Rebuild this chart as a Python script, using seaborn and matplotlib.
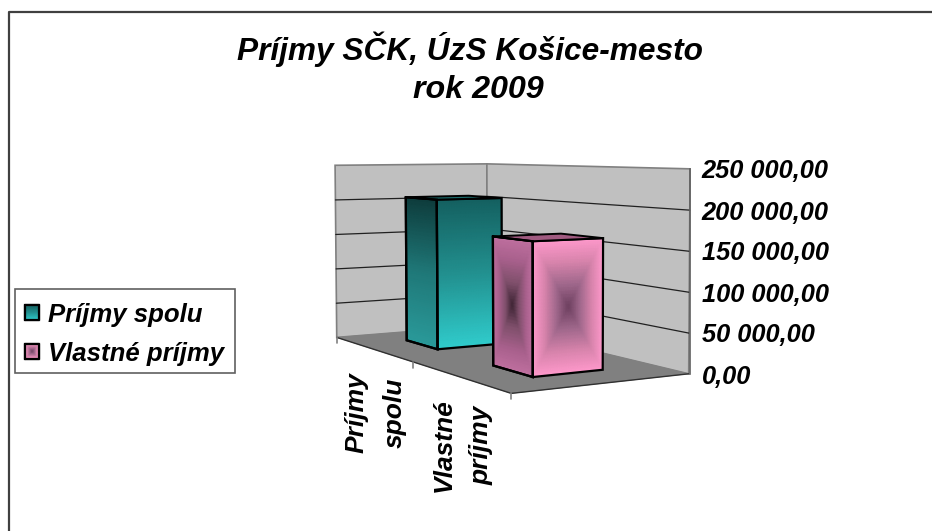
import numpy as np
import seaborn as sns
import matplotlib
matplotlib.use('Agg')
import matplotlib.pyplot as plt
from matplotlib.colors import LinearSegmentedColormap
from matplotlib.patches import Rectangle
from matplotlib.transforms import Transform

# data
categories = ['Príjmy spolu', 'Vlastné príjmy']
values = [205000, 164000]
y_ticks = [0, 50000, 100000, 150000, 200000, 250000]
y_max = 250000
title_lines = ['Príjmy SČK, ÚzS Košice-mesto', 'rok 2009']

sns.set_theme(style='white')
plt.rcParams['font.family'] = ['Liberation Sans', 'DejaVu Sans']
plt.rcParams['font.weight'] = 'bold'
plt.rcParams['font.style'] = 'italic'
plt.rcParams['text.color'] = 'black'
plt.rcParams['ytick.labelcolor'] = 'black'

W, H = 932, 531

# corners of the 3d box: (u along categories, v into depth, z up) -> pixel
box_3d = [(0, 0, 0), (1, 0, 0), (1, 1, 0), (0, 1, 0), (0, 0, 1), (0, 1, 1), (1, 1, 1)]
box_px = [(337, 338), (511, 393), (689, 374), (487, 325), (335, 165), (487, 164), (690, 169)]
rows = []
for (a, b, c), (px, py) in zip(box_3d, box_px):
    rows.append([a, b, c, 1, 0, 0, 0, 0, -px * a, -px * b, -px * c, -px])
    rows.append([0, 0, 0, 0, a, b, c, 1, -py * a, -py * b, -py * c, -py])
P = np.linalg.svd(np.array(rows, dtype=float))[2][-1].reshape(3, 4)


def project(u, v, z):
    u, v, z = np.broadcast_arrays(u, v, z)
    q = P @ np.stack([u.ravel(), v.ravel(), z.ravel(), np.ones(u.size)])
    return (q[0] / q[2]).reshape(u.shape), (q[1] / q[2]).reshape(u.shape)


class BarFace(Transform):
    # maps seaborn bar coordinates (category, value) on the plane v = v_pos
    input_dims = 2
    output_dims = 2

    def __init__(self, v_pos):
        super().__init__()
        self.v_pos = v_pos

    def transform_non_affine(self, xy):
        xy = np.asarray(xy, dtype=float)
        x, y = project((xy[:, 0] + 0.5) / 2, self.v_pos, xy[:, 1] / y_max)
        return np.column_stack([x, y])


bar_depth = (0.30, 0.705)

fig = plt.figure(figsize=(W / 100, H / 100), dpi=100)
bg = fig.add_axes([0, 0, 1, 1], zorder=0)
bg.set_xlim(0, W)
bg.set_ylim(H, 0)
bg.axis('off')

# outer chart frame
bg.plot([9, 9, W], [H, 12, 12], color='#404040', lw=1.6, clip_on=False)

# walls and floor
wall_kw = dict(edgecolor='#808080', lw=1.2, zorder=1)
bg.fill(*project([0, 0, 0, 0], [0, 1, 1, 0], [0, 0, 1, 1]), facecolor='#c0c0c0', **wall_kw)
bg.fill(*project([0, 1, 1, 0], [1, 1, 1, 1], [0, 0, 1, 1]), facecolor='#c0c0c0', **wall_kw)
bg.fill(*project([0, 1, 1, 0], [0, 0, 1, 1], [0, 0, 0, 0]), facecolor='#808080', edgecolor='#808080', lw=0.5, zorder=1)
bg.plot(*project([0, 1, 1], [0, 0, 1], 0), color='#303030', lw=1.0, zorder=2)

for tick in y_ticks[1:-1]:
    bg.plot(*project([0, 0, 1], [0, 1, 1], tick / y_max), color='#202020', lw=0.9, zorder=2)

# category ticks under the floor edge
for u in [0, 0.5, 1]:
    tx, ty = project(u, 0, 0)
    bg.plot([tx, tx], [ty, ty + 6], color='#808080', lw=1.2, zorder=2)

# real seaborn bars and value axis
ax = fig.add_axes([337 / W, 1 - 374 / H, (690 - 337) / W, 205 / H], zorder=1)
ax.patch.set_alpha(0)
sns.barplot(x=categories, y=values, ax=ax, width=0.385, fill=False, edgecolor='black', linewidth=1.6, err_kws={'linewidth': 0})
ax.set_ylim(0, y_max)
ax.set_yticks(y_ticks)
ax.set_yticklabels([f'{t:,.2f}'.replace(',', ' ').replace('.', ',') for t in y_ticks], fontsize=18.3)
ax.yaxis.tick_right()
ax.tick_params(axis='y', length=5, width=1.2, color='#606060', pad=3.5, right=True)
ax.tick_params(axis='x', bottom=False, labelbottom=False)
ax.set_xlabel('')
sns.despine(ax=ax, left=True, bottom=True, top=True, right=False)
ax.spines['right'].set_color('#606060')
ax.spines['right'].set_linewidth(1.2)

# gradients for the bar faces
teal_side = LinearSegmentedColormap.from_list('teal_side', ['#0e3c3c', '#1f7878', '#2a9a9a'])
teal_front = LinearSegmentedColormap.from_list('teal_front', ['#146060', '#22908f', '#30cccc'])
pink_side = LinearSegmentedColormap.from_list('pink_side', ['#3f2535', '#80506c', '#a8608c', '#c070a0'])
pink_front = LinearSegmentedColormap.from_list('pink_front', ['#6e4060', '#a0688c', '#d884ac', '#ff99cc'])


def vertical_grad(n=40):
    return np.repeat(np.linspace(0, 1, n)[:, None], n, axis=1)


def box_grad(n=40):
    s = np.abs(np.linspace(-1, 1, n))
    return np.maximum.outer(s, s)


def paint(x, y, grad, cmap, zorder):
    bg.pcolormesh(x, y, grad, cmap=cmap, vmin=0, vmax=1, shading='gouraud', zorder=zorder)
    bg.plot(np.r_[x[0, 0], x[0, -1], x[-1, -1], x[-1, 0], x[0, 0]],
            np.r_[y[0, 0], y[0, -1], y[-1, -1], y[-1, 0], y[0, 0]], color='black', lw=1.6, zorder=zorder + 0.1,
            solid_joinstyle='miter')


styles = [(teal_side, teal_front, vertical_grad, '#1a6a6a'), (pink_side, pink_front, box_grad, '#a05a80')]
n = 40
v0, v1 = bar_depth
for i, bar in enumerate(ax.patches):
    x0 = bar.get_x()
    u0 = (x0 + 0.5) / 2
    u1 = (x0 + bar.get_width() + 0.5) / 2
    z = bar.get_height() / y_max
    side_c, front_c, grad, top_c = styles[i]
    # z from top to bottom so the vertical gradient starts at the top
    zz = np.linspace(z, 0, n)[:, None]
    uu = np.linspace(u0, u1, n)[None, :]
    vv = np.linspace(v0, v1, n)[None, :]
    base = 3 + i * 2
    paint(*project(uu, v0, zz), grad(n), side_c, base)
    paint(*project(u1, vv, zz), grad(n), front_c, base)
    bg.fill(*project([u0, u1, u1, u0], [v0, v0, v1, v1], z), facecolor=top_c, edgecolor='black', lw=1.4, zorder=base + 0.2)
    # seaborn's rectangle becomes the outline of the side face
    bar.set_transform(BarFace(v0) + bg.transData)
    bar.set_clip_on(False)

# category labels
bg.text(376, 413, 'Príjmy\nspolu', rotation=90, ha='center', va='center', fontsize=19, linespacing=1.75, multialignment='center', zorder=3)
bg.text(462.5, 445, 'Vlastné\npríjmy', rotation=90, ha='center', va='center', fontsize=19, linespacing=1.75, multialignment='center', zorder=3)

# title, the second line sits a little right of the first one
bg.text(470, 60, title_lines[0], ha='center', va='baseline', fontsize=22.8)
bg.text(478.5, 98, title_lines[1], ha='center', va='baseline', fontsize=23.2)

# legend, its box drawn apart because the rows sit low in it
bg.add_patch(Rectangle((15, 289), 220, 84, facecolor='white', edgecolor='#606060', lw=1.2, zorder=19))
leg = bg.legend(list(ax.patches), categories, loc='upper left', bbox_to_anchor=(15 / W, 1 - 292.5 / H), bbox_transform=fig.transFigure,
                fontsize=18.5, frameon=False, borderaxespad=0,
                handlelength=0.54, handleheight=0.54, labelspacing=0.58, handletextpad=0.35, borderpad=0.4)
leg.set_zorder(20)

# legend swatches repeat the bar gradients, placed where the legend put its handles
fig.canvas.draw()
for handle, (_, front_c, grad, _) in zip(leg.legend_handles, styles):
    box = handle.get_window_extent().transformed(bg.transData.inverted())
    sx, sy = np.meshgrid(np.linspace(box.x0, box.x1, 12), np.linspace(min(box.y0, box.y1), max(box.y0, box.y1), 12))
    bg.pcolormesh(sx, sy, grad(12), cmap=front_c, vmin=0, vmax=1, shading='gouraud', zorder=21)
    bg.plot([box.x0, box.x1, box.x1, box.x0, box.x0], [box.y0, box.y0, box.y1, box.y1, box.y0], color='black', lw=1.6, zorder=22)

fig.savefig('out.png', dpi=100, facecolor='white')
